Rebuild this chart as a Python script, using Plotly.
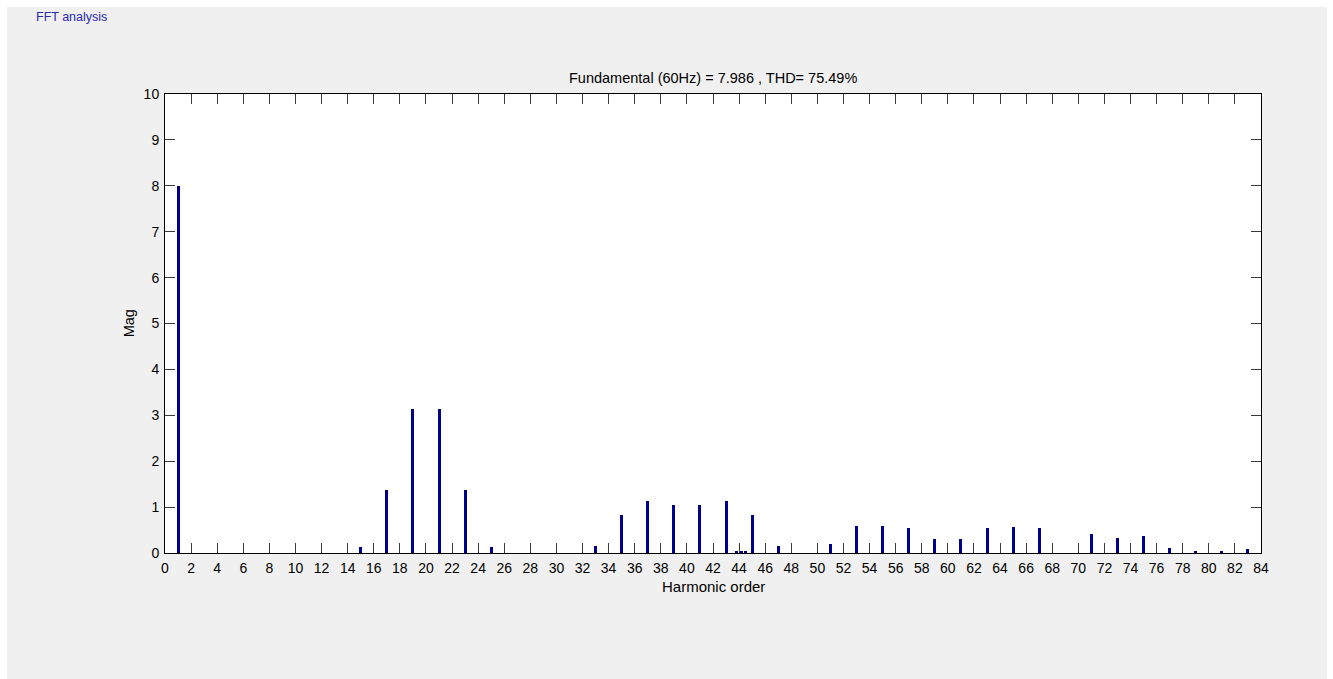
import plotly.graph_objects as go

# Harmonic spectrum (harmonic order vs. magnitude)
harmonic_order = [1, 15, 17, 19, 21, 23, 25, 33, 35, 37, 39, 41, 43, 43.8, 44.2, 44.5,
                  45, 47, 51, 53, 55, 57, 59, 61, 63, 65, 67, 71, 73, 75, 77, 79, 81, 83]
magnitude = [7.986, 0.12, 1.38, 3.13, 3.13, 1.38, 0.12, 0.16, 0.83, 1.13, 1.05, 1.04, 1.13,
             0.04, 0.05, 0.05, 0.83, 0.16, 0.19, 0.59, 0.58, 0.54, 0.30, 0.30, 0.55, 0.57,
             0.55, 0.42, 0.32, 0.37, 0.10, 0.04, 0.04, 0.09]

x_ticks = list(range(0, 85, 2))
y_ticks = list(range(0, 11))

fundamental = 7.986
thd = 75.49
title_text = f"Fundamental (60Hz) = {fundamental} , THD= {thd}%"

FONT = "Liberation Sans, Arial, sans-serif"
BAR_COLOR = "#00008f"
PANEL = "#f0f0f0"

fig = go.Figure()
fig.add_trace(go.Bar(
    x=harmonic_order, y=magnitude, width=0.23,
    marker=dict(color=BAR_COLOR, line=dict(width=0)),
    hoverinfo="x+y",
))

axis_common = dict(
    showline=True, linecolor="#000000", linewidth=1, mirror="ticks",
    ticks="inside", ticklen=10, tickwidth=1, tickcolor="#3a3a3a",
    showgrid=False, zeroline=False,
    tickfont=dict(family=FONT, size=14, color="#000000"),
)

fig.update_layout(
    width=1333, height=679,
    margin=dict(l=165, r=72, t=94, b=126),
    paper_bgcolor=PANEL, plot_bgcolor="#ffffff",
    showlegend=False, bargap=0,
    xaxis=dict(range=[0, 84], tickvals=x_ticks, ticktext=[str(v) for v in x_ticks],
               ticklabelstandoff=2, **axis_common),
    yaxis=dict(range=[0, 10], tickvals=y_ticks, ticktext=[str(v) for v in y_ticks],
               ticklabelstandoff=2, **axis_common),
    annotations=[
        dict(text=title_text, xref="paper", yref="paper", x=0.5, y=1.035,
             xanchor="center", yanchor="middle", showarrow=False,
             font=dict(family=FONT, size=14.5, color="#000000")),
        dict(text="Harmonic order", xref="paper", yref="paper", x=0.5, y=-0.073,
             xanchor="center", yanchor="middle", showarrow=False,
             font=dict(family=FONT, size=15, color="#000000")),
        dict(text="Mag", xref="paper", yref="paper", x=-0.033, y=0.5, textangle=-90,
             xanchor="center", yanchor="middle", showarrow=False,
             font=dict(family=FONT, size=14.5, color="#000000")),
        dict(text="FFT analysis", xref="paper", yref="paper", x=-0.1195, y=1.167,
             xanchor="left", yanchor="middle", showarrow=False,
             font=dict(family=FONT, size=12.5, color="#2a2ab0")),
    ],
    shapes=[
        # white window border around the grey panel
        dict(type="rect", xref="paper", yref="paper", layer="below",
             x0=-0.16, x1=1.08, y0=1.1895, y1=1.25, fillcolor="#ffffff", line=dict(width=0)),
        dict(type="rect", xref="paper", yref="paper", layer="below",
             x0=-0.16, x1=-0.1442, y0=-0.3, y1=1.25, fillcolor="#ffffff", line=dict(width=0)),
        dict(type="rect", xref="paper", yref="paper", layer="below",
             x0=1.0602, x1=1.08, y0=-0.3, y1=1.25, fillcolor="#ffffff", line=dict(width=0)),
    ],
)

fig.write_html("out.html")
